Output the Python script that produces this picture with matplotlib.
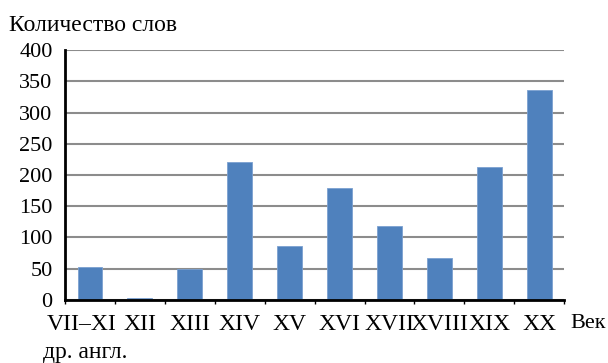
import numpy as np
import matplotlib.pyplot as plt
import matplotlib.transforms as mtransforms

BLUE = '#4f81bd'
GRID = '#8c8c8c'

centuries = ['VII–XI', 'XII', 'XIII', 'XIV', 'XV', 'XVI',
             'XVII', 'XVIII', 'XIX', 'XX']
first_note = 'др. англ.'
words = [52, 3, 50, 220, 86, 179, 119, 67, 212, 336]
y_ticks = [0, 50, 100, 150, 200, 250, 300, 350, 400]

plt.rcParams['font.family'] = ['Liberation Serif', 'DejaVu Serif']


def plotter() -> None:
    fig = plt.figure(figsize=(6.08, 3.63), dpi=100)
    ax = fig.add_axes([0.107, 0.174, 0.821, 0.688])

    x = np.arange(len(centuries))
    ax.bar(x, words, width=0.5, color=BLUE, edgecolor='#7ba0d0',
           linewidth=0.6, zorder=3)

    ax.set_xlim(-0.5, len(centuries) - 0.5)
    ax.set_ylim(0, 400)
    ax.set_yticks(y_ticks)
    ax.set_yticklabels([str(v) for v in y_ticks], fontsize=16)
    ax.yaxis.grid(True, color=GRID, linewidth=1.5, zorder=0)
    ax.tick_params(axis='y', length=0, pad=9)

    ax.set_xticks(x)
    ax.set_xticklabels(centuries, fontsize=17)
    ax.set_xticks(np.arange(len(centuries) + 1) - 0.5, minor=True)
    ax.tick_params(axis='x', which='major', length=0, pad=10)
    ax.tick_params(axis='x', which='minor', length=3, width=1, direction='out')

    # first label sits a bit left of its bar in the original
    first = ax.get_xticklabels()[0]
    first.set_transform(first.get_transform() + mtransforms.ScaledTranslation(
        -6 / 72, 0, fig.dpi_scale_trans))
    ax.text(-0.1, -0.232, first_note, fontsize=17, ha='center',
            va='baseline', transform=ax.get_xaxis_transform())

    for side in ['top', 'right']:
        ax.spines[side].set_visible(False)
    for side in ['left', 'bottom']:
        ax.spines[side].set_linewidth(2)
        ax.spines[side].set_zorder(4)

    fig.text(0.015, 0.9146, 'Количество слов', fontsize=17, va='baseline')
    fig.text(0.938, 0.0964, 'Век', fontsize=16, va='baseline')

    fig.savefig('out.png', dpi=100)


def main() -> None:
    plotter()


main()
